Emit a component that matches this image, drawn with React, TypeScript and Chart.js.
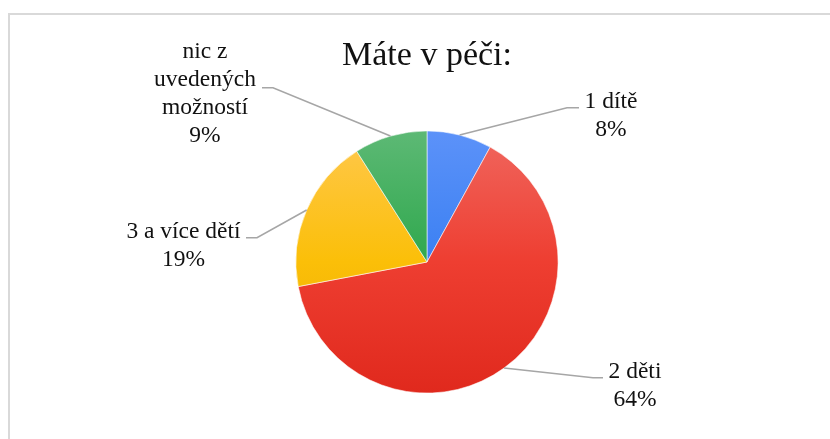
import React, { useEffect, useRef } from "react";
import { Chart, registerables } from "chart.js";

Chart.register(...registerables);

const chartTitle = "Máte v péči:";
const categories = ["1 dítě", "2 děti", "3 a více dětí", "nic z uvedených možností"];
const labelLines = [["1 dítě"], ["2 děti"], ["3 a více dětí"], ["nic z", "uvedených", "možností"]];
const percentages = [8, 64, 19, 9];

// gradient stops: top, middle, bottom of the pie
const sliceColors = [
  ["#5c92f9", "#3b80f2", "#2f70e2"],
  ["#f0675f", "#ee3e31", "#e0291d"],
  ["#ffc84e", "#fbbf08", "#e8a802"],
  ["#5db975", "#2fa84d", "#25963f"],
];

// label placement relative to pie center (style only)
const labelLayout = [
  { elbow: [140, -154.3], end: 152, tx: 184, ty: -154 },
  { elbow: [166, 115.7], end: 176, tx: 208, ty: 115.7 },
  { elbow: [-170, -24.3], end: -181, tx: -243.5, ty: -24 },
  { elbow: [-154, -174.3], end: -165, tx: -222, ty: -204.5 },
];
const labelLineHeight = 28;

const labelPlugin = {
  id: "pieLabels",
  afterDraw(chart: any) {
    const ctx = chart.ctx;
    const meta = chart.getDatasetMeta(0);
    ctx.save();
    meta.data.forEach((arc: any, i: number) => {
      const { x, y, startAngle, endAngle, outerRadius } = arc.getProps(
        ["x", "y", "startAngle", "endAngle", "outerRadius"],
        true
      );
      const mid = (startAngle + endAngle) / 2;
      const px = x + Math.cos(mid) * outerRadius;
      const py = y + Math.sin(mid) * outerRadius;
      const lay = labelLayout[i];
      ctx.strokeStyle = "#a6a6a6";
      ctx.lineWidth = 1.6;
      ctx.beginPath();
      ctx.moveTo(px, py);
      ctx.lineTo(x + lay.elbow[0], y + lay.elbow[1]);
      ctx.lineTo(x + lay.end, y + lay.elbow[1]);
      ctx.stroke();
      ctx.fillStyle = "#111111";
      ctx.font = '23.5px "Liberation Serif", "Times New Roman", serif';
      ctx.textAlign = "center";
      ctx.textBaseline = "alphabetic";
      const lines = [...labelLines[i], percentages[i] + "%"];
      lines.forEach((t, k) => {
        ctx.fillText(t, x + lay.tx, y + lay.ty + k * labelLineHeight);
      });
    });
    // title
    const ca = chart.chartArea;
    const cx = (ca.left + ca.right) / 2;
    ctx.font = '34px "Liberation Serif", "Times New Roman", serif';
    ctx.fillStyle = "#111111";
    ctx.textAlign = "center";
    ctx.fillText(chartTitle, cx, ca.top - 65.5);
    ctx.restore();
  },
};

export default function App() {
  const ref = useRef<HTMLCanvasElement | null>(null);
  useEffect(() => {
    if (!ref.current) return;
    const chart = new Chart(ref.current, {
      type: "pie",
      data: {
        labels: categories,
        datasets: [
          {
            data: percentages,
            backgroundColor: (c: any) => {
              const stops = sliceColors[c.dataIndex % sliceColors.length];
              const ca = c.chart.chartArea;
              if (!ca) return stops[1];
              const g = c.chart.ctx.createLinearGradient(0, ca.top, 0, ca.bottom);
              g.addColorStop(0, stops[0]);
              g.addColorStop(0.5, stops[1]);
              g.addColorStop(1, stops[2]);
              return g;
            },
            borderColor: "rgba(255,255,255,0.7)",
            borderWidth: 0.8,
          },
        ],
      },
      options: {
        animation: false,
        responsive: false,
        layout: { padding: { left: 295.5, right: 271.5, top: 130.5, bottom: 45.5 } },
        plugins: {
          legend: { display: false },
          title: { display: false },
          tooltip: { enabled: false },
        },
      },
      plugins: [labelPlugin],
    });
    return () => chart.destroy();
  }, []);

  return (
    <div style={{ position: "fixed", left: 0, top: 0, width: 830, height: 439, overflow: "hidden", background: "#fff" }}>
      <div
        style={{
          position: "absolute",
          left: 8,
          top: 13,
          width: 900,
          height: 500,
          borderTop: "2px solid #d9d9d9",
          borderLeft: "2px solid #d9d9d9",
          boxSizing: "border-box",
        }}
      />
      <canvas ref={ref} width={830} height={439} style={{ position: "absolute", left: 0, top: 0, width: 830, height: 439 }} />
    </div>
  );
}
